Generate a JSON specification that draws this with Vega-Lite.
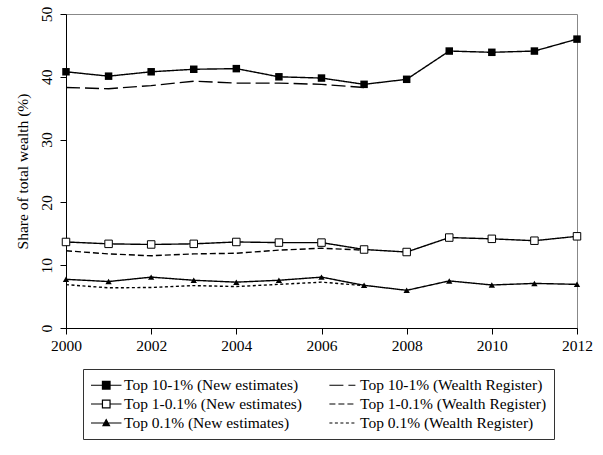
{
  "$schema": "https://vega.github.io/schema/vega-lite/v6.json",
  "width": 511,
  "height": 314,
  "autosize": {"type": "none"},
  "padding": {"left": 66, "top": 14, "right": 26, "bottom": 127},
  "background": "white",
  "config": {
    "view": {"stroke": "#888888", "strokeWidth": 1},
    "axis": {
      "domainColor": "black",
      "tickColor": "black",
      "labelColor": "black",
      "titleColor": "black",
      "labelFont": "Liberation Serif",
      "titleFont": "Liberation Serif",
      "labelFontSize": 15.5,
      "titleFontSize": 15.5,
      "titleFontWeight": "normal",
      "tickSize": 6,
      "grid": false
    },
    "legend": {
      "labelFont": "Liberation Serif",
      "labelFontSize": 15.5,
      "labelColor": "black",
      "labelLimit": 400
    }
  },
  "data": {
    "values": [
      {"year": 2000, "series": "Top 10-1% (New estimates)", "value": 40.8},
      {"year": 2001, "series": "Top 10-1% (New estimates)", "value": 40.1},
      {"year": 2002, "series": "Top 10-1% (New estimates)", "value": 40.8},
      {"year": 2003, "series": "Top 10-1% (New estimates)", "value": 41.2},
      {"year": 2004, "series": "Top 10-1% (New estimates)", "value": 41.3},
      {"year": 2005, "series": "Top 10-1% (New estimates)", "value": 40.0},
      {"year": 2006, "series": "Top 10-1% (New estimates)", "value": 39.8},
      {"year": 2007, "series": "Top 10-1% (New estimates)", "value": 38.8},
      {"year": 2008, "series": "Top 10-1% (New estimates)", "value": 39.6},
      {"year": 2009, "series": "Top 10-1% (New estimates)", "value": 44.1},
      {"year": 2010, "series": "Top 10-1% (New estimates)", "value": 43.9},
      {"year": 2011, "series": "Top 10-1% (New estimates)", "value": 44.1},
      {"year": 2012, "series": "Top 10-1% (New estimates)", "value": 46.0},
      {"year": 2000, "series": "Top 10-1% (Wealth Register)", "value": 38.3},
      {"year": 2001, "series": "Top 10-1% (Wealth Register)", "value": 38.1},
      {"year": 2002, "series": "Top 10-1% (Wealth Register)", "value": 38.6},
      {"year": 2003, "series": "Top 10-1% (Wealth Register)", "value": 39.3},
      {"year": 2004, "series": "Top 10-1% (Wealth Register)", "value": 39.0},
      {"year": 2005, "series": "Top 10-1% (Wealth Register)", "value": 39.0},
      {"year": 2006, "series": "Top 10-1% (Wealth Register)", "value": 38.8},
      {"year": 2007, "series": "Top 10-1% (Wealth Register)", "value": 38.3},
      {"year": 2000, "series": "Top 1-0.1% (New estimates)", "value": 13.7},
      {"year": 2001, "series": "Top 1-0.1% (New estimates)", "value": 13.4},
      {"year": 2002, "series": "Top 1-0.1% (New estimates)", "value": 13.3},
      {"year": 2003, "series": "Top 1-0.1% (New estimates)", "value": 13.4},
      {"year": 2004, "series": "Top 1-0.1% (New estimates)", "value": 13.7},
      {"year": 2005, "series": "Top 1-0.1% (New estimates)", "value": 13.6},
      {"year": 2006, "series": "Top 1-0.1% (New estimates)", "value": 13.6},
      {"year": 2007, "series": "Top 1-0.1% (New estimates)", "value": 12.5},
      {"year": 2008, "series": "Top 1-0.1% (New estimates)", "value": 12.1},
      {"year": 2009, "series": "Top 1-0.1% (New estimates)", "value": 14.4},
      {"year": 2010, "series": "Top 1-0.1% (New estimates)", "value": 14.2},
      {"year": 2011, "series": "Top 1-0.1% (New estimates)", "value": 13.9},
      {"year": 2012, "series": "Top 1-0.1% (New estimates)", "value": 14.6},
      {"year": 2000, "series": "Top 1-0.1% (Wealth Register)", "value": 12.3},
      {"year": 2001, "series": "Top 1-0.1% (Wealth Register)", "value": 11.8},
      {"year": 2002, "series": "Top 1-0.1% (Wealth Register)", "value": 11.5},
      {"year": 2003, "series": "Top 1-0.1% (Wealth Register)", "value": 11.8},
      {"year": 2004, "series": "Top 1-0.1% (Wealth Register)", "value": 11.9},
      {"year": 2005, "series": "Top 1-0.1% (Wealth Register)", "value": 12.4},
      {"year": 2006, "series": "Top 1-0.1% (Wealth Register)", "value": 12.7},
      {"year": 2007, "series": "Top 1-0.1% (Wealth Register)", "value": 12.4},
      {"year": 2000, "series": "Top 0.1% (New estimates)", "value": 7.75},
      {"year": 2001, "series": "Top 0.1% (New estimates)", "value": 7.4},
      {"year": 2002, "series": "Top 0.1% (New estimates)", "value": 8.1},
      {"year": 2003, "series": "Top 0.1% (New estimates)", "value": 7.6},
      {"year": 2004, "series": "Top 0.1% (New estimates)", "value": 7.3},
      {"year": 2005, "series": "Top 0.1% (New estimates)", "value": 7.6},
      {"year": 2006, "series": "Top 0.1% (New estimates)", "value": 8.1},
      {"year": 2007, "series": "Top 0.1% (New estimates)", "value": 6.8},
      {"year": 2008, "series": "Top 0.1% (New estimates)", "value": 6.0},
      {"year": 2009, "series": "Top 0.1% (New estimates)", "value": 7.5},
      {"year": 2010, "series": "Top 0.1% (New estimates)", "value": 6.85},
      {"year": 2011, "series": "Top 0.1% (New estimates)", "value": 7.1},
      {"year": 2012, "series": "Top 0.1% (New estimates)", "value": 6.95},
      {"year": 2000, "series": "Top 0.1% (Wealth Register)", "value": 6.9},
      {"year": 2001, "series": "Top 0.1% (Wealth Register)", "value": 6.4},
      {"year": 2002, "series": "Top 0.1% (Wealth Register)", "value": 6.45},
      {"year": 2003, "series": "Top 0.1% (Wealth Register)", "value": 6.75},
      {"year": 2004, "series": "Top 0.1% (Wealth Register)", "value": 6.6},
      {"year": 2005, "series": "Top 0.1% (Wealth Register)", "value": 6.95},
      {"year": 2006, "series": "Top 0.1% (Wealth Register)", "value": 7.3},
      {"year": 2007, "series": "Top 0.1% (Wealth Register)", "value": 6.75}
    ]
  },
  "encoding": {
    "x": {
      "field": "year",
      "type": "quantitative",
      "scale": {"domain": [2000, 2012], "nice": false, "zero": false},
      "axis": {"title": null, "values": [2000, 2002, 2004, 2006, 2008, 2010, 2012], "format": "d", "labelPadding": 4, "labelFlush": false}
    },
    "y": {
      "field": "value",
      "type": "quantitative",
      "scale": {"domain": [0, 50], "nice": false},
      "axis": {
        "title": "Share of total wealth (%)",
        "values": [0, 10, 20, 30, 40, 50],
        "labelAngle": -90,
        "labelAlign": "center",
        "labelBaseline": "bottom",
        "labelPadding": 6,
        "titlePadding": 9
      }
    }
  },
  "layer": [
    {
      "mark": {"type": "line", "color": "black", "strokeWidth": 1.4},
      "encoding": {
        "detail": {"field": "series"},
        "strokeDash": {
          "field": "series",
          "type": "nominal",
          "scale": {
            "domain": [
              "Top 10-1% (New estimates)",
              "Top 10-1% (Wealth Register)",
              "Top 1-0.1% (New estimates)",
              "Top 1-0.1% (Wealth Register)",
              "Top 0.1% (New estimates)",
              "Top 0.1% (Wealth Register)"
            ],
            "range": [[1, 0], [14, 5], [1, 0], [6, 3], [1, 0], [3, 2.5]]
          },
          "legend": {
            "title": null,
            "orient": "none",
            "legendX": 17,
            "legendY": 355,
            "direction": "horizontal",
            "columns": 2,
            "columnPadding": 24,
            "rowPadding": 1,
            "padding": 7,
            "strokeColor": "#333333",
            "symbolSize": 256,
            "symbolStrokeWidth": 1.2,
            "symbolStrokeColor": "black",
            "labelOffset": 16,
            "encode": {
              "symbols": {
                "update": {
                  "opacity": {"value": 1},
                  "stroke": {"value": "black"},
                  "strokeWidth": {"value": 1.2},
                  "fill": {"signal": "datum.value === 'Top 1-0.1% (New estimates)' ? 'white' : 'black'"}
                }
              }
            }
          }
        }
      }
    },
    {
      "transform": [{"filter": "datum.series === 'Top 10-1% (New estimates)'"}],
      "mark": {"type": "point", "shape": "square", "filled": true, "color": "black", "size": 56, "opacity": 1}
    },
    {
      "transform": [{"filter": "datum.series === 'Top 1-0.1% (New estimates)'"}],
      "mark": {"type": "point", "shape": "square", "filled": true, "fill": "white", "stroke": "black", "strokeWidth": 1, "size": 56, "opacity": 1}
    },
    {
      "transform": [{"filter": "datum.series === 'Top 0.1% (New estimates)'"}],
      "mark": {"type": "point", "shape": "triangle-up", "filled": true, "color": "black", "size": 40, "opacity": 1}
    },
    {
      "transform": [{"filter": "datum.year < 1900"}],
      "mark": {"type": "point", "filled": true, "stroke": "black", "strokeWidth": 1, "opacity": 1},
      "encoding": {
        "shape": {
          "field": "series",
          "type": "nominal",
          "scale": {
            "domain": [
              "Top 10-1% (New estimates)",
              "Top 10-1% (Wealth Register)",
              "Top 1-0.1% (New estimates)",
              "Top 1-0.1% (Wealth Register)",
              "Top 0.1% (New estimates)",
              "Top 0.1% (Wealth Register)"
            ],
            "range": [
              "M-1,0H0.43M1.38,0H2.81M0.43,-0.475H1.38V0.475H0.43Z",
              "M-0.7,0H2.55",
              "M-1,0H0.43M1.38,0H2.81M0.43,-0.475H1.38V0.475H0.43Z",
              "M-0.7,0H2.55",
              "M-1,0H2.81M0.5,0.33L0.905,-0.42L1.31,0.33Z",
              "M-0.7,0H2.55"
            ]
          },
          "legend": {
            "title": null,
            "orient": "none",
            "legendX": 17,
            "legendY": 355,
            "direction": "horizontal",
            "columns": 2,
            "columnPadding": 24,
            "rowPadding": 1,
            "padding": 7,
            "strokeColor": "#333333",
            "symbolSize": 256,
            "symbolStrokeWidth": 1.2,
            "symbolStrokeColor": "black",
            "labelOffset": 16,
            "encode": {
              "symbols": {
                "update": {
                  "opacity": {"value": 1},
                  "stroke": {"value": "black"},
                  "strokeWidth": {"value": 1.2},
                  "fill": {"signal": "datum.value === 'Top 1-0.1% (New estimates)' ? 'white' : 'black'"}
                }
              }
            }
          }
        }
      }
    }
  ]
}
